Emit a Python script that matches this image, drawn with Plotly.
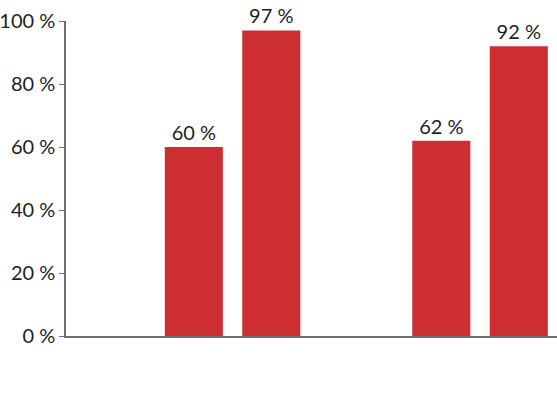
import plotly.graph_objects as go

# ── Data ──────────────────────────────────────────────────────────────────────
groups = ["Groupe 1", "Groupe 2"]
series_a = [60, 62]
series_b = [97, 92]
y_ticks = [0, 20, 40, 60, 80, 100]
y_tick_labels = ["0 %", "20 %", "40 %", "60 %", "80 %", "100 %"]

C_BAR = "#cd2e32"
C_TEXT = "#1e1e1e"
C_AXIS = "#6e6e6e"
FONT = "Lato, 'Open Sans', sans-serif"

fig = go.Figure()
for name, vals in (("A", series_a), ("B", series_b)):
    fig.add_trace(go.Bar(
        x=groups, y=vals, name=name,
        marker=dict(color=C_BAR, line=dict(width=0)),
        text=[f"{v} %" for v in vals],
        textposition="outside",
        textfont=dict(size=20, color=C_TEXT, family=FONT),
        cliponaxis=False,
        showlegend=False,
    ))

fig.update_layout(
    width=557, height=412,
    margin=dict(l=66, r=0, t=21, b=76, autoexpand=False),
    barmode="group",
    bargap=0.374,
    bargroupgap=0.25,
    plot_bgcolor="white",
    paper_bgcolor="white",
    font=dict(family=FONT, size=20, color=C_TEXT),
)
fig.update_xaxes(
    range=[-0.673, 1.311],
    showticklabels=False, ticks="",
    showgrid=False, zeroline=False,
    showline=True, linecolor=C_AXIS, linewidth=1.5,
)
fig.update_yaxes(
    range=[0, 100],
    tickvals=y_ticks, ticktext=y_tick_labels,
    ticks="outside", ticklen=5, tickcolor=C_AXIS, tickwidth=1,
    showgrid=False, zeroline=False,
    showline=True, linecolor=C_AXIS, linewidth=1.5,
    tickfont=dict(size=20, color=C_TEXT, family=FONT),
    ticklabelstandoff=0,
)

# drop the default 8px body margin so the figure sits at the page corner
fig.write_html("out.html",
               config={"displayModeBar": False},
               post_script="document.body.style.margin='0';")
